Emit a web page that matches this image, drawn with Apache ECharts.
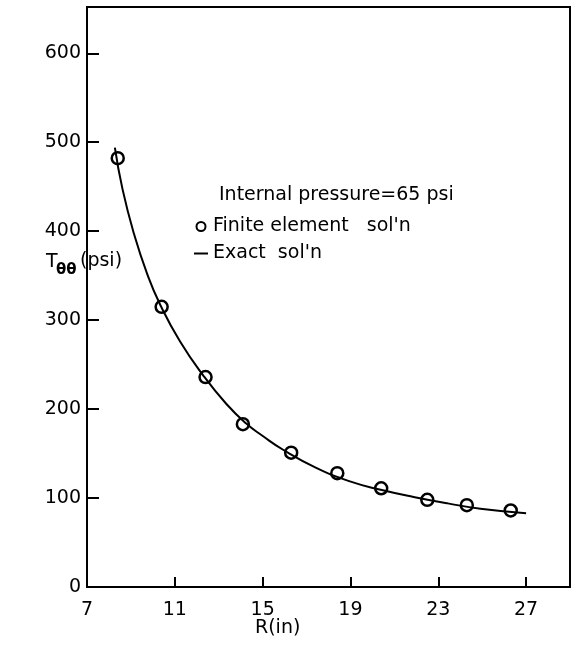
<!DOCTYPE html>
<html>
<head>
<meta charset="utf-8">
<script src="https://cdn.jsdelivr.net/npm/echarts@6/dist/echarts.min.js"></script>
<style>
html,body{margin:0;padding:0;background:#fff;}
#chart{width:580px;height:648px;}
</style>
</head>
<body>
<div id="chart"></div>
<script>
// Finite element solution (circles)
const femR = [8.4, 10.4, 12.4, 14.1, 16.3, 18.4, 20.4, 22.5, 24.3, 26.3];
const femStress = [482, 315, 236, 183, 151, 128, 111, 98, 92, 86];
// Exact solution (solid curve)
const exactR = [8.27, 8.62, 9.14, 9.74, 10.34, 11.24, 12.29, 13.34, 14.24, 14.99, 15.95, 17.44, 18.94, 20.43, 21.93, 23.43, 24.92, 27.0];
const exactStress = [494, 447, 397, 352, 317, 276, 238, 206, 184, 170, 154, 134, 119, 109, 101, 94, 88, 83];
// Tick labels
const xTicks = [7, 11, 15, 19, 23, 27];
const yTicks = [0, 100, 200, 300, 400, 500, 600];

const FONT = "'DejaVu Sans', sans-serif";

const chart = echarts.init(document.getElementById('chart'), null, {renderer: 'canvas'});
chart.setOption({
  animation: false,
  backgroundColor: '#fff',
  textStyle: {fontFamily: FONT, color: '#000'},
  grid: {left: 87, right: 10, top: 7, bottom: 61, show: true, borderColor: '#000', borderWidth: 2, backgroundColor: 'transparent'},
  title: {
    text: 'Internal pressure=65 psi',
    left: 214, top: 181,
    textStyle: {fontFamily: FONT, fontSize: 19, fontWeight: 'normal', color: '#000'}
  },
  legend: {
    orient: 'vertical',
    left: 189, top: 212,
    itemGap: 8,
    itemWidth: 14, itemHeight: 9,
    symbolKeepAspect: true,
    textStyle: {fontFamily: FONT, fontSize: 19, color: '#000'},
    data: [
      {name: "Finite element   sol'n", icon: 'emptyCircle', itemStyle: {color: '#000', borderColor: '#000', borderWidth: 1.5, opacity: 1}},
      {name: "Exact  sol'n", icon: 'path://M0,0 L14,0 L14,2 L0,2 Z', itemStyle: {color: '#000'}}
    ]
  },
  xAxis: {
    type: 'value', min: 7, max: 29,
    axisLine: {show: true, onZero: false, lineStyle: {color: '#000', width: 2}},
    axisTick: {show: true, inside: true, length: 10, customValues: xTicks, lineStyle: {color: '#000', width: 2}},
    axisLabel: {customValues: xTicks, margin: 14, fontSize: 19, fontFamily: FONT, color: '#000'},
    splitLine: {show: false}
  },
  yAxis: {
    type: 'value', min: 0, max: 652,
    axisLine: {show: true, onZero: false, lineStyle: {color: '#000', width: 2}},
    axisTick: {show: true, inside: true, length: 12, customValues: yTicks, lineStyle: {color: '#000', width: 2}},
    axisLabel: {customValues: yTicks, margin: 6, fontSize: 19, fontFamily: FONT, color: '#000'},
    splitLine: {show: false}
  },
  graphic: [
    {type: 'text', left: 46, top: 253, style: {text: 'T', fontSize: 19, fontFamily: FONT, fill: '#000'}},
    {type: 'text', left: 56, top: 263, style: {text: 'θθ', fontSize: 15, fontWeight: 'bold', fontFamily: FONT, fill: '#000'}},
    {type: 'text', left: 80, top: 252, style: {text: '(psi)', fontSize: 19, fontFamily: FONT, fill: '#000'}},
    {type: 'text', left: 255, top: 619, style: {text: 'R(in)', fontSize: 19, fontFamily: FONT, fill: '#000'}}
  ],
  series: [
    {
      name: "Exact  sol'n",
      type: 'line',
      data: exactR.map((r, i) => [r, exactStress[i]]),
      smooth: 0.5,
      showSymbol: false,
      symbol: 'none',
      lineStyle: {color: '#000', width: 2},
      itemStyle: {color: '#000'},
      z: 2
    },
    {
      name: "Finite element   sol'n",
      type: 'scatter',
      data: femR.map((r, i) => [r, femStress[i]]),
      symbol: 'circle',
      symbolSize: 12,
      itemStyle: {color: 'rgba(255,255,255,0)', borderColor: '#000', borderWidth: 2.5, opacity: 1},
      z: 3
    }
  ]
});
</script>
</body>
</html>
